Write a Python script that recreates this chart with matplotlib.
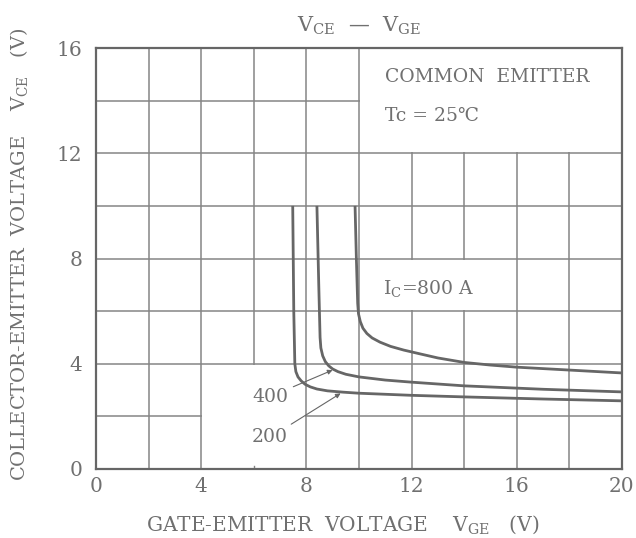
import matplotlib.pyplot as plt
from matplotlib.patches import Rectangle

# curve data (VGE in V, VCE in V)
vge_200 = [7.48, 7.52, 7.56, 7.6, 7.68, 7.8, 7.95, 8.15, 8.4, 8.8, 9.4, 10, 12, 14, 17, 20]
vce_200 = [10, 6, 4.0, 3.7, 3.5, 3.35, 3.22, 3.12, 3.04, 2.97, 2.92, 2.88, 2.8, 2.74, 2.66, 2.59]

vge_400 = [8.4, 8.47, 8.52, 8.55, 8.62, 8.72, 8.85, 9.0, 9.2, 9.5, 10, 11, 12, 14, 17, 20]
vce_400 = [10, 7, 5, 4.6, 4.3, 4.08, 3.92, 3.8, 3.7, 3.6, 3.5, 3.38, 3.3, 3.16, 3.03, 2.93]

vge_800 = [9.85, 9.9, 9.95, 9.98, 10.05, 10.15, 10.3, 10.5, 10.8, 11.2, 11.7, 12.3, 13, 14, 15, 16, 18, 20]
vce_800 = [10, 8, 6.3, 5.9, 5.6, 5.35, 5.15, 4.98, 4.82, 4.66, 4.52, 4.38, 4.22, 4.05, 3.95, 3.87, 3.76, 3.65]

x_ticks = [0, 4, 8, 12, 16, 20]
y_ticks = [0, 4, 8, 12, 16]
x_grid = [2, 6, 10, 14, 18]
y_grid = [2, 6, 10, 14]

ink = '#666666'
grid_c = '#858585'
text_c = '#707070'

plt.rcParams['font.family'] = ['DejaVu Serif', 'DejaVu Sans']
plt.rcParams['mathtext.fontset'] = 'dejavuserif'

fig = plt.figure(figsize=(6.36, 5.38), dpi=100)
ax = fig.add_axes([96 / 636, 1 - 469 / 538, 526 / 636, 421 / 538])

ax.set_xlim(0, 20)
ax.set_ylim(0, 16)
ax.set_xticks(x_ticks)
ax.set_yticks(y_ticks)
ax.set_xticks(x_grid, minor=True)
ax.set_yticks(y_grid, minor=True)
ax.grid(which='both', color=grid_c, lw=1.1, zorder=1)
ax.set_axisbelow(True)
ax.tick_params(which='both', length=0, colors=text_c, labelsize=14.5)
ax.tick_params(axis='x', pad=6)
ax.tick_params(axis='y', pad=10)
for s in ax.spines.values():
    s.set_color(ink)
    s.set_linewidth(1.6)

# white patches that hide the grid behind the labels
ax.add_patch(Rectangle((10.04, 12.04), 9.92, 3.92, fc='white', ec='none', zorder=2))
ax.add_patch(Rectangle((10.04, 6.04), 5.92, 1.92, fc='white', ec='none', zorder=2))
ax.add_patch(Rectangle((4.04, 0.04), 3.92, 3.92, fc='white', ec='none', zorder=2))
ax.plot([6, 6], [0, 0.12], color=grid_c, lw=1.0, zorder=2)

for xs, ys in [(vge_200, vce_200), (vge_400, vce_400), (vge_800, vce_800)]:
    ax.plot(xs, ys, color=ink, lw=2.0, zorder=3, solid_capstyle='butt', solid_joinstyle='round')

ax.text(11.0, 14.9, 'COMMON  EMITTER', color=text_c, fontsize=13.5, va='center', zorder=4)
ax.text(11.0, 13.4, 'Tc = 25℃', color=text_c, fontsize=13.5, va='center', zorder=4)
ax.text(10.9, 6.85, r'I$_{\mathrm{C}}$=800 A', color=text_c, fontsize=13.5, va='center', zorder=4)

arrow = dict(arrowstyle='-|>', color=ink, lw=0.8, mutation_scale=7)
ax.annotate('400', xy=(9.09, 3.8), xytext=(7.3, 2.75), color=text_c, fontsize=13.5,
            ha='right', va='center', arrowprops=arrow, zorder=4)
ax.annotate('200', xy=(9.39, 2.93), xytext=(7.3, 1.2), color=text_c, fontsize=13.5,
            ha='right', va='center', arrowprops=arrow, zorder=4)

ax.set_title(r'V$_{\mathrm{CE}}$  —  V$_{\mathrm{GE}}$', color=text_c, fontsize=15, pad=12)
ax.set_xlabel(r'GATE-EMITTER  VOLTAGE    V$_{\mathrm{GE}}$   (V)', color=text_c, fontsize=14.5)
ax.set_ylabel(r'COLLECTOR-EMITTER  VOLTAGE    V$_{\mathrm{CE}}$   (V)', color=text_c, fontsize=14)
ax.xaxis.set_label_coords(0.47, -0.105)
ax.yaxis.set_label_coords(-0.125, 0.51)

fig.savefig('out.png', dpi=100, facecolor='white')
